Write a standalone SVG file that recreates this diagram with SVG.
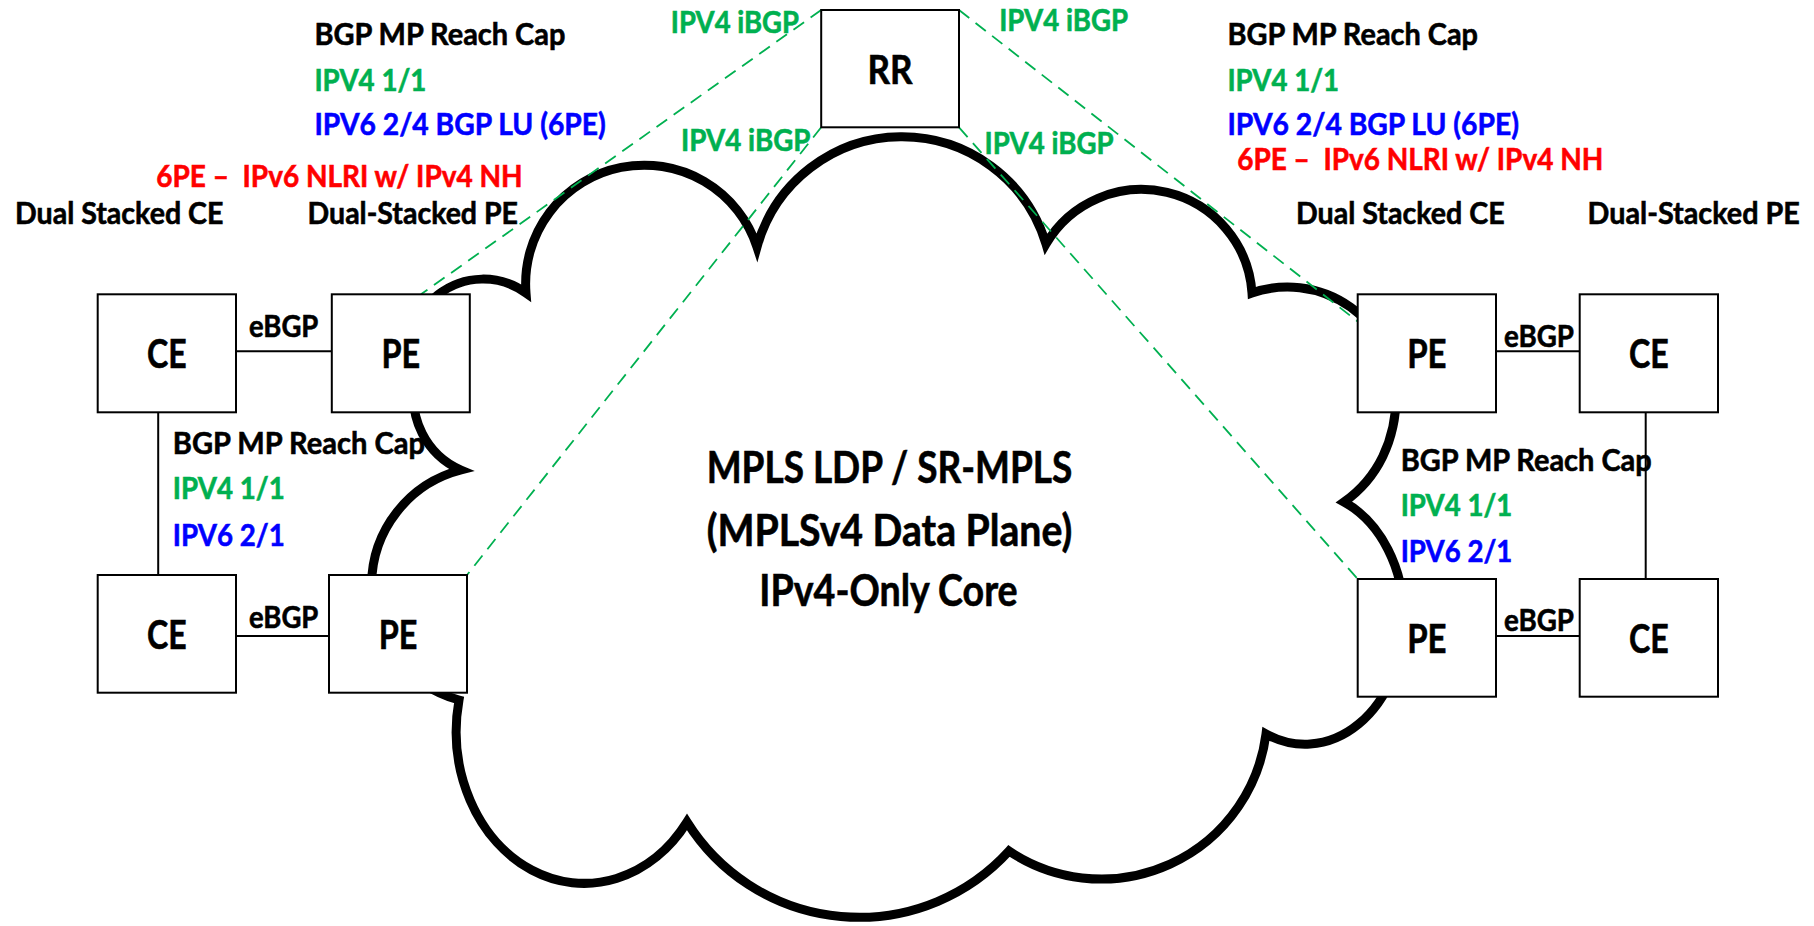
<svg xmlns="http://www.w3.org/2000/svg" width="1814" height="926" viewBox="0 0 1814 926">
<style>
.t{font-family:Lato,"Open Sans","Liberation Sans",sans-serif;font-weight:bold;font-size:31px;stroke-width:0.6}
.c{font-size:43px;text-anchor:middle}
.n{font-size:40px;text-anchor:middle}
.k{fill:#000;stroke:#000}.g{fill:#00B050;stroke:#00B050}.b{fill:#0000FF;stroke:#0000FF}.r{fill:#FF0000;stroke:#FF0000}
.box{fill:#fff;stroke:#000;stroke-width:2}
.ln{stroke:#000;stroke-width:2;fill:none}
.ib{stroke:#00B050;stroke-width:1.8;stroke-dasharray:13 8;fill:none}
.cloud{fill:#fff;stroke:#000;stroke-width:9;stroke-linejoin:miter;stroke-miterlimit:6}
</style>
<rect width="1814" height="926" fill="#fff"/>
<g id="cloud">
<path class="cloud" d="M526 293 A118.6 118.6 0 0 1 757 247 A150.4 150.4 0 0 1 1046 244 A110.8 110.8 0 0 1 1252 293 A108.6 108.6 0 0 1 1396.2 395.6 C1396 440 1378 478 1344 502 A99 127 0 0 1 1404 620 A99 127 0 0 1 1266 734 A166 166 0 0 1 1009 851 A202.8 202.8 0 0 1 687 822 A128 152 0 0 1 459 700 A119 119 0 0 1 461 470 A79 79 0 0 1 415.7 380 A73 73 0 0 1 526 293 Z"/>
<text class="t c k" x="889.5" y="483.3" textLength="365.6" lengthAdjust="spacingAndGlyphs">MPLS LDP / SR-MPLS</text>
<text class="t c k" x="889.5" y="546" textLength="365.6" lengthAdjust="spacingAndGlyphs">(MPLSv4 Data Plane)</text>
<text class="t c k" x="888.5" y="606" textLength="258.4" lengthAdjust="spacingAndGlyphs">IPv4-Only Core</text>
</g>
<g id="connectors">
<line class="ln" x1="236" y1="351.3" x2="332" y2="351.3"/>
<line class="ln" x1="236" y1="636" x2="329" y2="636"/>
<line class="ln" x1="158.2" y1="412.3" x2="158.2" y2="575"/>
<line class="ln" x1="1496" y1="351.3" x2="1579.7" y2="351.3"/>
<line class="ln" x1="1496" y1="636" x2="1579.7" y2="636"/>
<line class="ln" x1="1645.7" y1="412.3" x2="1645.7" y2="579"/>
<line class="ib" x1="821.2" y1="10" x2="421" y2="294.3"/>
<line class="ib" x1="821.2" y1="127.3" x2="467" y2="575"/>
<line class="ib" x1="959" y1="10" x2="1357.7" y2="321.5"/>
<line class="ib" x1="959" y1="127.3" x2="1357.7" y2="579"/>
<text class="t k" x="249" y="337.3" textLength="69.3" lengthAdjust="spacingAndGlyphs">eBGP</text>
<text class="t k" x="249" y="628.3" textLength="69.3" lengthAdjust="spacingAndGlyphs">eBGP</text>
<text class="t k" x="1504" y="346.7" textLength="70" lengthAdjust="spacingAndGlyphs">eBGP</text>
<text class="t k" x="1504" y="630.7" textLength="70" lengthAdjust="spacingAndGlyphs">eBGP</text>
<text class="t g" x="670.8" y="33.3" textLength="128.2" lengthAdjust="spacingAndGlyphs">IPV4 iBGP</text>
<text class="t g" x="999.2" y="31" textLength="128.8" lengthAdjust="spacingAndGlyphs">IPV4 iBGP</text>
<text class="t g" x="681" y="150.7" textLength="129.5" lengthAdjust="spacingAndGlyphs">IPV4 iBGP</text>
<text class="t g" x="984.6" y="154" textLength="129" lengthAdjust="spacingAndGlyphs">IPV4 iBGP</text>
</g>
<g id="rr">
<rect class="box" x="821.2" y="10" width="137.8" height="117.3"/>
<text class="t n k" x="890" y="84" textLength="45" lengthAdjust="spacingAndGlyphs">RR</text>
</g>
<g id="ce-left-top">
<rect class="box" x="97.7" y="294.3" width="138.3" height="118"/>
<text class="t n k" x="166.9" y="368.3" textLength="39.6" lengthAdjust="spacingAndGlyphs">CE</text>
</g>
<g id="pe-left-top">
<rect class="box" x="331.8" y="294.3" width="138" height="118"/>
<text class="t n k" x="400.8" y="368.3" textLength="38.7" lengthAdjust="spacingAndGlyphs">PE</text>
</g>
<g id="ce-left-bottom">
<rect class="box" x="97.7" y="575" width="138.3" height="117.7"/>
<text class="t n k" x="166.9" y="648.8" textLength="39.6" lengthAdjust="spacingAndGlyphs">CE</text>
</g>
<g id="pe-left-bottom">
<rect class="box" x="329" y="575" width="138" height="117.7"/>
<text class="t n k" x="398" y="648.8" textLength="38.7" lengthAdjust="spacingAndGlyphs">PE</text>
</g>
<g id="pe-right-top">
<rect class="box" x="1357.7" y="294.3" width="138.3" height="118"/>
<text class="t n k" x="1426.9" y="368.3" textLength="39.4" lengthAdjust="spacingAndGlyphs">PE</text>
</g>
<g id="ce-right-top">
<rect class="box" x="1579.7" y="294.3" width="138.3" height="118"/>
<text class="t n k" x="1648.9" y="368.3" textLength="39.7" lengthAdjust="spacingAndGlyphs">CE</text>
</g>
<g id="pe-right-bottom">
<rect class="box" x="1357.7" y="579" width="138.3" height="117.7"/>
<text class="t n k" x="1426.9" y="652.7" textLength="39.4" lengthAdjust="spacingAndGlyphs">PE</text>
</g>
<g id="ce-right-bottom">
<rect class="box" x="1579.7" y="579" width="138.3" height="117.7"/>
<text class="t n k" x="1648.9" y="652.7" textLength="39.7" lengthAdjust="spacingAndGlyphs">CE</text>
</g>
<g id="labels-left">
<text class="t k" x="314.4" y="45" textLength="251" lengthAdjust="spacingAndGlyphs">BGP MP Reach Cap</text>
<text class="t g" x="314.4" y="90.7" textLength="112" lengthAdjust="spacingAndGlyphs">IPV4 1/1</text>
<text class="t b" x="314.4" y="135" textLength="291.4" lengthAdjust="spacingAndGlyphs">IPV6 2/4 BGP LU (6PE)</text>
<text class="t r" x="156.2" y="186.7" textLength="366.5" lengthAdjust="spacingAndGlyphs" xml:space="preserve">6PE –  IPv6 NLRI w/ IPv4 NH</text>
<text class="t k" x="15" y="224" textLength="208.4" lengthAdjust="spacingAndGlyphs">Dual Stacked CE</text>
<text class="t k" x="307.6" y="224" textLength="210.4" lengthAdjust="spacingAndGlyphs">Dual-Stacked PE</text>
<text class="t k" x="172.8" y="454" textLength="252.2" lengthAdjust="spacingAndGlyphs">BGP MP Reach Cap</text>
<text class="t g" x="172.8" y="499.3" textLength="111.9" lengthAdjust="spacingAndGlyphs">IPV4 1/1</text>
<text class="t b" x="172.8" y="545.7" textLength="111.9" lengthAdjust="spacingAndGlyphs">IPV6 2/1</text>
</g>
<g id="labels-right">
<text class="t k" x="1227.4" y="45" textLength="250.6" lengthAdjust="spacingAndGlyphs">BGP MP Reach Cap</text>
<text class="t g" x="1227.4" y="90.7" textLength="111.6" lengthAdjust="spacingAndGlyphs">IPV4 1/1</text>
<text class="t b" x="1227.4" y="135" textLength="291.6" lengthAdjust="spacingAndGlyphs">IPV6 2/4 BGP LU (6PE)</text>
<text class="t r" x="1237.2" y="170" textLength="366.1" lengthAdjust="spacingAndGlyphs" xml:space="preserve">6PE –  IPv6 NLRI w/ IPv4 NH</text>
<text class="t k" x="1296" y="224" textLength="208.6" lengthAdjust="spacingAndGlyphs">Dual Stacked CE</text>
<text class="t k" x="1587.6" y="224" textLength="212.2" lengthAdjust="spacingAndGlyphs">Dual-Stacked PE</text>
<text class="t k" x="1400.7" y="470.7" textLength="251" lengthAdjust="spacingAndGlyphs">BGP MP Reach Cap</text>
<text class="t g" x="1400.7" y="515.7" textLength="111.6" lengthAdjust="spacingAndGlyphs">IPV4 1/1</text>
<text class="t b" x="1400.7" y="561.7" textLength="111.6" lengthAdjust="spacingAndGlyphs">IPV6 2/1</text>
</g>
</svg>
